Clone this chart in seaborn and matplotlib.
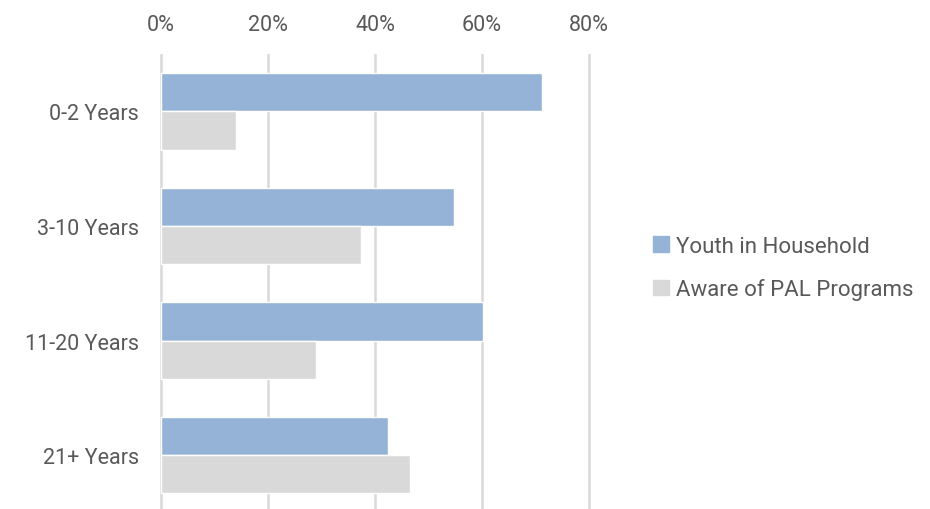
import matplotlib.pyplot as plt
import pandas as pd
import seaborn as sns
from matplotlib.ticker import FuncFormatter

# valores
categories = ['0-2 Years', '3-10 Years', '11-20 Years', '21+ Years']
youth = [71.3, 54.8, 60.1, 42.4]
aware = [14.1, 37.3, 28.9, 46.5]
series = ['Youth in Household', 'Aware of PAL Programs']
x_ticks = [0, 20, 40, 60, 80]

df = pd.DataFrame({
    'category': categories * 2,
    'value': youth + aware,
    'series': [series[0]] * len(categories) + [series[1]] * len(categories),
})

sns.set_style('white')
plt.rcParams['font.family'] = ['Roboto', 'DejaVu Sans']
text_color = '#595959'

fig = plt.figure(figsize=(9.3, 5.1), dpi=100)
ax = fig.add_axes([158.3 / 930, 0, (591.7 - 158.3) / 930, (510 - 55) / 510])

sns.barplot(data=df, y='category', x='value', hue='series', order=categories,
            hue_order=series, palette=['#95B3D7', '#D9D9D9'], width=0.668,
            gap=0, orient='h', ax=ax, legend=False, saturation=1)

ax.set_xlim(-0.5, 80.5)
ax.set_ylim(3.47, -0.5)
ax.set_xticks(x_ticks)
ax.xaxis.set_major_formatter(FuncFormatter(lambda v, p: f'{v:.0f}%'))
ax.xaxis.tick_top()
ax.grid(axis='x', color='#D9D9D9', linewidth=1.8)
ax.set_axisbelow(True)
for s in ax.spines.values():
    s.set_visible(False)
ax.tick_params(axis='both', length=0, labelsize=15.5, labelcolor=text_color)
ax.tick_params(axis='x', pad=14)
ax.tick_params(axis='y', pad=14)
ax.set_xlabel('')
ax.set_ylabel('')

handles = [plt.Rectangle((0, 0), 1, 1, color=c) for c in ['#95B3D7', '#D9D9D9']]
fig.legend(handles, series, loc='center left', bbox_to_anchor=(633 / 930, 1 - 269 / 510),
           frameon=False, fontsize=16, labelcolor=text_color, handlelength=0.7,
           handleheight=0.7, handletextpad=0.35, labelspacing=0.95)

fig.savefig('out.png', dpi=100)
